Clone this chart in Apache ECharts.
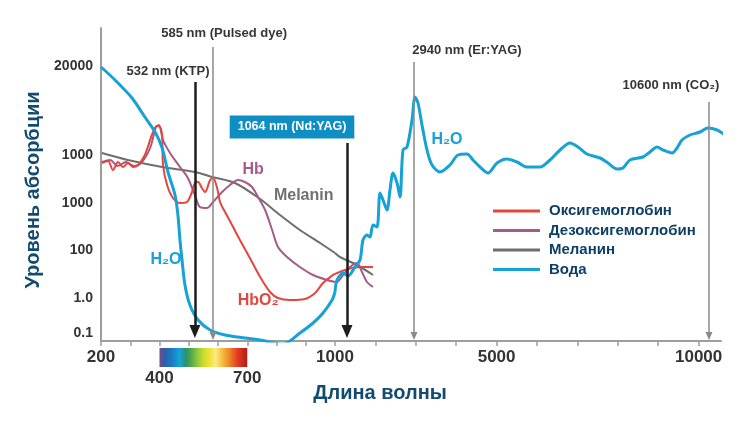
<!DOCTYPE html>
<html>
<head>
<meta charset="utf-8">
<title>Уровень абсорбции</title>
<script src="https://cdn.jsdelivr.net/npm/echarts/dist/echarts.min.js"></script>
<style>
    html, body { margin: 0; padding: 0; background: #fff; }
    #chart { width: 752px; height: 422px; }
</style>
</head>
<body>
<div id="chart"></div>
<script>
(function (echarts) {

    // кривые: [длина волны, уровень] (уровень = условная шкала рисунка, 0 = ось)
    var oxyHb = [[203,178],[224,180],[241,171],[258,179],[275,174],[292,178],[309,174],[327,176],[350,186],
        [374,206],[391,215],[402,214],[409,206],[412,176],[426,156],[446,143],[470,138],[494,139],[511,149],
        [521,158],[532,159],[545,153],[556,149],[573,161],[583,163],[597,153],[607,139],[624,129],[648,116],
        [675,101],[709,83],[744,64],[778,49],[805,43],[846,41],[897,42],[932,48],[959,58],[993,66],[1000,67],
        [1173,70],[1421,73],[1693,74],[1941,74]];
    var deoxyHb = [[203,179],[231,181],[258,175],[285,179],[313,175],[340,179],[368,193],[388,214],[398,216],
        [412,201],[436,188],[470,174],[497,163],[521,146],[538,134],[562,133],[583,139],[614,149],[641,156],
        [668,161],[692,159],[716,154],[737,144],[761,131],[785,111],[805,94],[836,84],[880,74],[925,66],
        [973,61],[1000,59],[1050,59],[1198,66],[1371,74],[1545,78],[1668,69],[1792,59],[1941,54]];
    var melanin = [[203,188],[292,181],[409,174],[521,169],[580,164],[658,158],[744,142],[812,126],[880,111],
        [949,98],[1000,88],[1124,84],[1545,76],[1941,66]];
    var water = [[200,274],[248,261],[306,243],[350,224],[385,209],[409,193],[429,169],[453,146],[463,126],
        [470,101],[477,81],[487,56],[504,36],[532,21],[573,11],[624,6],[692,3],[744,1],[822,-3],[880,8],
        [925,18],[959,28],[990,41],[1000,49],
        [1050,61],[1198,68],[1322,65],[1495,74],[1619,81],[1693,101],[1792,106],[1866,104],[1941,116],
        [2040,114],[2114,148],[2188,141],[2287,131],[2361,151],[2436,168],[2535,158],[2609,144],[2683,191],
        [2782,194],[2906,221],[2980,244],[3054,238],[3153,216],[3277,191],[3401,176],[3599,169],[3846,176],
        [4044,186],[4267,187],[4416,181],[4589,174],[4787,168],[5010,178],[5257,182],[5505,179],[5752,174],
        [6074,174],[6321,181],[6569,191],[6816,198],[7014,194],[7237,187],[7559,183],[7757,178],[7980,172],
        [8128,173],[8301,181],[8623,184],[8796,189],[8970,194],[9119,191],[9341,188],[9465,193],[9589,201],
        [9786,206],[10034,209],[10232,213],[10455,211],[10653,206],[10851,201]];

    // лазеры: где линия стоит на рисунке и докуда доходит
    var laserNames = ['532 nm (KTP)', '585 nm (Pulsed dye)', '1064 nm (Nd:YAG)', '2940 nm (Er:YAG)', '10600 nm (CO₂)'];
    var laserAt = [521, 583, 1297, 2955, 10257];
    var laserTop = [259, 294, 198, 279, 239];

    var yTickLevels = [8, 43, 91, 138, 186, 275];
    var yTickText = ['0.1', '1.0', '100', '1000', '1000', '20000'];
    var xLabelsLeft = [200, 1000];
    var xLabelsRight = [5000, 10000];
    var xTicksRight = [1000, 2000, 3000, 4000, 5000, 6000, 7000, 8000, 9000, 10000];
    var spectrum = [400, 700];

    var legendNames = ['Оксигемоглобин', 'Дезоксигемоглобин', 'Меланин', 'Вода'];
    var colors = ['#e2463d', '#a45a8b', '#6e6e6e', '#17a2d6'];

    var FONT = '"Liberation Sans", Arial, sans-serif';
    var AXIS = '#9d9d9d';

    function leftPart(points) {
        return points.filter(function (p) { return p[0] <= 1000; });
    }
    function rightPart(points) {
        return points.filter(function (p) { return p[0] >= 1000; });
    }

    function curve(name, color, width, points, idx) {
        return {
            name: name, type: 'line', xAxisIndex: idx, yAxisIndex: idx,
            data: points, smooth: 0.3, symbol: 'none', silent: true,
            lineStyle: { color: color, width: width },
            itemStyle: { color: color }
        };
    }

    function laserLine(i) {
        var big = i === 0 || i === 2;
        var size = big ? [11, 13] : [7, 8];
        var tip = big ? 3 : 1;
        var style = { color: big ? '#1d1d1d' : '#8a8a8a', width: big ? 2.5 : 1.5, type: 'solid' };
        return [
            { coord: [laserAt[i], laserTop[i]], lineStyle: style },
            { coord: [laserAt[i], tip + size[1] / 2], lineStyle: style, symbolSize: size }
        ];
    }

    function note(coord, text, color, size, extra) {
        var label = { show: true, position: 'inside', formatter: text, color: color,
            fontSize: size, fontWeight: 'bold', fontFamily: FONT };
        if (extra) {
            for (var k in extra) label[k] = extra[k];
        }
        return { coord: coord, value: 0, label: label };
    }

    var laserColor = '#353535';
    var notesLeft = [
        note([621, 308], laserNames[1], laserColor, 13),
        note([429, 270], laserNames[0], laserColor, 13),
        note([853, 214], laserNames[2], '#fff', 12.5, { backgroundColor: '#0f8ec3', padding: [5, 8, 5, 8] }),
        note([720, 171], 'Hb', colors[1], 16),
        note([893, 145], 'Melanin', '#707070', 16),
        note([422, 81], 'H₂O', colors[3], 16),
        note([737, 40], 'HbO₂', colors[0], 16)
    ];
    var notesRight = [
        note([4267, 291], laserNames[3], laserColor, 13),
        note([9316, 256], laserNames[4], laserColor, 13),
        note([3772, 201], 'H₂O', colors[3], 16)
    ];

    var waterLeft = curve(legendNames[3], colors[3], 3, leftPart(water), 0);
    waterLeft.markLine = {
        silent: true, symbol: ['none', 'triangle'], label: { show: false },
        data: [laserLine(0), laserLine(1)]
    };
    waterLeft.markPoint = { silent: true, symbol: 'circle', symbolSize: 0, data: notesLeft };

    var waterRight = curve(legendNames[3], colors[3], 3, rightPart(water), 1);
    waterRight.clip = false;
    waterRight.markLine = {
        silent: true, symbol: ['none', 'triangle'], label: { show: false },
        data: [laserLine(2), laserLine(3), laserLine(4)]
    };
    waterRight.markPoint = { silent: true, symbol: 'circle', symbolSize: 0, data: notesRight };

    var rainbow = new echarts.graphic.LinearGradient(0, 0, 1, 0, [
        { offset: 0.00, color: '#7b4a85' }, { offset: 0.06, color: '#2b5fae' },
        { offset: 0.15, color: '#1a7fc4' }, { offset: 0.23, color: '#12a7d6' },
        { offset: 0.30, color: '#2f8f6e' }, { offset: 0.35, color: '#4aa54a' },
        { offset: 0.43, color: '#8cc63f' }, { offset: 0.50, color: '#c8dc2a' },
        { offset: 0.58, color: '#f2e33c' }, { offset: 0.64, color: '#fbe98a' },
        { offset: 0.71, color: '#f8c040' }, { offset: 0.79, color: '#f08a2a' },
        { offset: 0.89, color: '#e33a22' }, { offset: 1.00, color: '#b01c1c' }
    ]);

    // без разделителя тысяч
    function plain(v) { return String(v); }
    var tickLabel = { fontSize: 17, fontWeight: 'bold', color: '#333', fontFamily: FONT, formatter: plain };

    var option = {
        backgroundColor: '#fff',
        animation: false,
        grid: [
            { left: 101, top: 28, width: 234, height: 313, outerBoundsMode: 'none' },
            { left: 335, top: 28, width: 386, height: 313, outerBoundsMode: 'none' },
            { left: 101, top: 348, width: 234, height: 19, outerBoundsMode: 'none' }
        ],
        xAxis: [
            {
                gridIndex: 0, type: 'value', min: 200, max: 1000, interval: 100,
                axisLine: { show: true, lineStyle: { color: AXIS, width: 2 } },
                axisTick: { show: true, length: 5, lineStyle: { color: AXIS, width: 1.5 } },
                axisLabel: Object.assign({ customValues: xLabelsLeft, margin: 8 }, tickLabel),
                splitLine: { show: false }
            },
            {
                gridIndex: 1, type: 'value', min: 1000, max: 10554, interval: 1000,
                axisLine: { show: true, lineStyle: { color: AXIS, width: 2 } },
                axisTick: { show: true, length: 5, customValues: xTicksRight, lineStyle: { color: AXIS, width: 1.5 } },
                axisLabel: Object.assign({ customValues: xLabelsRight, margin: 8 }, tickLabel),
                splitLine: { show: false }
            },
            {
                gridIndex: 2, type: 'value', min: 200, max: 1000,
                axisLine: { show: false }, axisTick: { show: false }, splitLine: { show: false },
                axisLabel: Object.assign({ customValues: spectrum, margin: 3 }, tickLabel)
            }
        ],
        yAxis: [
            {
                gridIndex: 0, type: 'value', min: 0, max: 313,
                axisLine: { show: true, lineStyle: { color: AXIS, width: 2 } },
                axisTick: { show: false },
                splitLine: { show: false },
                axisLabel: {
                    customValues: yTickLevels, margin: 8,
                    fontSize: 14, fontWeight: 'bold', color: '#333', fontFamily: FONT,
                    formatter: function (v) {
                        var i = yTickLevels.indexOf(v);
                        return i < 0 ? '' : yTickText[i];
                    }
                }
            },
            { gridIndex: 1, type: 'value', min: 0, max: 313, show: false },
            { gridIndex: 2, type: 'value', min: 0, max: 1, show: false }
        ],
        legend: {
            data: legendNames, orient: 'vertical', left: 488, top: 198,
            icon: 'rect', itemWidth: 47, itemHeight: 3, itemGap: 3.5,
            selectedMode: false,
            textStyle: { color: '#0e3f66', fontSize: 15, fontWeight: 'bold', fontFamily: FONT,
                lineHeight: 16, padding: [0, 0, 0, 4] }
        },
        graphic: [
            {
                type: 'text', x: 380, y: 393, silent: true,
                style: { text: 'Длина волны', align: 'center', verticalAlign: 'middle',
                    fontSize: 20, fontWeight: 'bold', fontFamily: FONT, fill: '#134b70' }
            },
            {
                type: 'text', x: 33, y: 190, rotation: Math.PI / 2, silent: true,
                style: { text: 'Уровень абсорбции', align: 'center', verticalAlign: 'middle',
                    fontSize: 20, fontWeight: 'bold', fontFamily: FONT, fill: '#134b70' }
            }
        ],
        series: [
            curve(legendNames[2], colors[2], 2, leftPart(melanin), 0),
            curve(legendNames[2], colors[2], 2, rightPart(melanin), 1),
            curve(legendNames[1], colors[1], 2, leftPart(deoxyHb), 0),
            curve(legendNames[1], colors[1], 2, rightPart(deoxyHb), 1),
            curve(legendNames[0], colors[0], 2, leftPart(oxyHb), 0),
            curve(legendNames[0], colors[0], 2, rightPart(oxyHb), 1),
            waterLeft,
            waterRight,
            {
                type: 'custom', xAxisIndex: 2, yAxisIndex: 2, silent: true,
                data: [spectrum],
                renderItem: function (params, api) {
                    var a = api.coord([api.value(0), 1]);
                    var b = api.coord([api.value(1), 0]);
                    return {
                        type: 'rect',
                        shape: { x: a[0], y: a[1], width: b[0] - a[0], height: b[1] - a[1] },
                        style: { fill: rainbow }
                    };
                }
            }
        ]
    };

    var chart = echarts.init(document.getElementById('chart'));
    chart.setOption(option);

})(window.echarts);
</script>
</body>
</html>
